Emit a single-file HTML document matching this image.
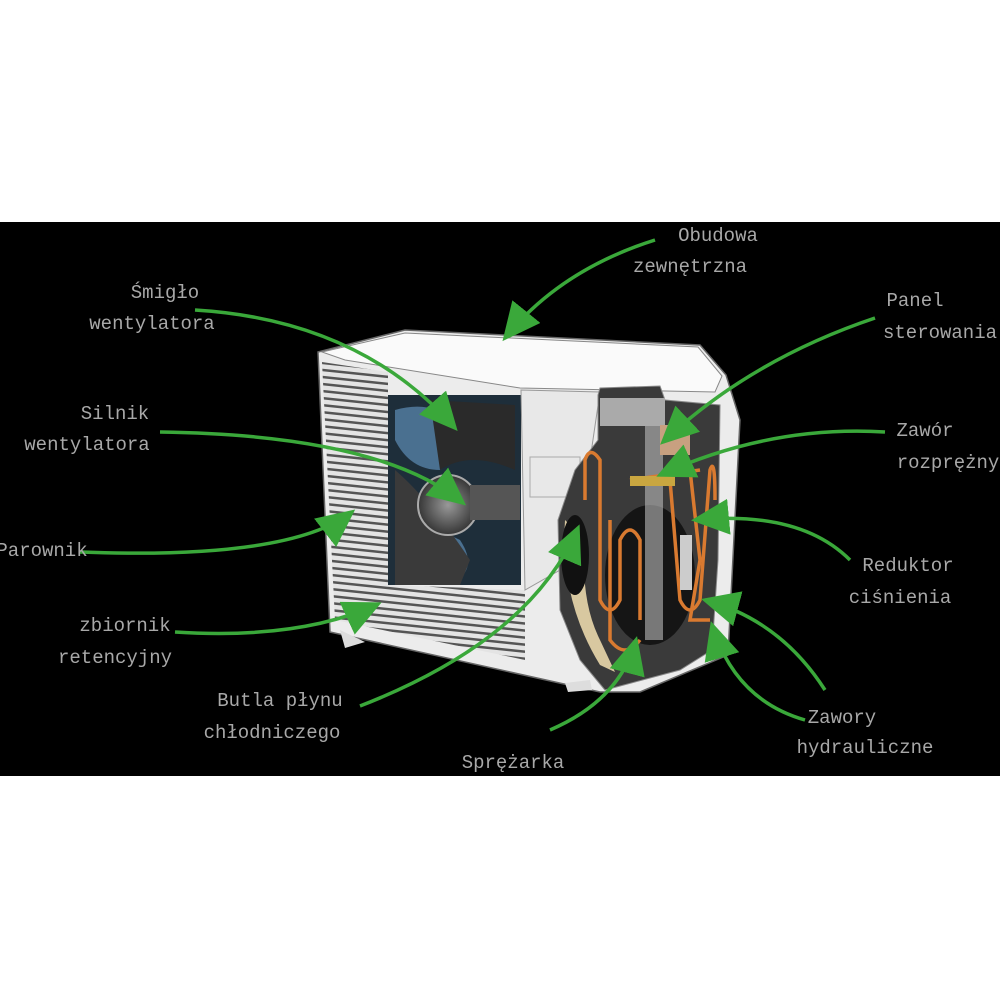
<!DOCTYPE html>
<html><head><meta charset="utf-8"><style>
html,body{margin:0;padding:0;background:#fff;}
svg{display:block}
text{font-family:"Liberation Mono","DejaVu Sans Mono",monospace;fill:#a8a8a8;font-size:19px;text-anchor:middle}
</style></head><body>
<svg width="1000" height="1000" viewBox="0 0 1000 1000">
<defs>
<marker id="ah" markerUnits="userSpaceOnUse" markerWidth="40" markerHeight="36" refX="34" refY="18" orient="auto">
<path d="M0,0 L38,18 L0,36 Z" fill="#3aa83a"/>
</marker>
<pattern id="gr" width="8" height="7" patternUnits="userSpaceOnUse" patternTransform="rotate(6)">
<rect width="8" height="7" fill="#e4e4e4"/><rect y="4" width="8" height="2.5" fill="#555"/>
</pattern>
<radialGradient id="fan" cx="0.5" cy="0.5" r="0.6"><stop offset="0" stop-color="#999"/><stop offset="1" stop-color="#222"/></radialGradient>
</defs>
<rect x="0" y="0" width="1000" height="1000" fill="#fff"/>
<rect x="0" y="222" width="1000" height="554" fill="#000"/>

<!-- unit body -->
<path d="M318,352 L405,330 L700,345 L726,375 L740,420 L728,655 L640,692 L600,692 L330,632 Z" fill="#ececec" stroke="#666" stroke-width="1.5"/>
<path d="M322,352 L405,333 L698,347 L722,376 L715,392 L520,388 L345,360 Z" fill="#fafafa" stroke="#888"/>
<!-- grille -->
<path d="M322,362 L388,372 L388,585 L525,590 L525,660 L335,620 Z" fill="url(#gr)"/>
<!-- fan window -->
<rect x="388" y="395" width="133" height="190" fill="#1e2e3a"/>
<path d="M395,410 Q430,400 455,420 Q470,450 440,470 Q410,470 395,440 Z" fill="#4a7090"/>
<path d="M395,530 Q420,520 460,540 Q480,570 450,585 L395,585 Z" fill="#4a7090"/>
<path d="M430,400 L515,405 L515,470 Q470,450 440,470 Z" fill="#2a2a2a"/>
<path d="M395,470 Q430,500 470,560 L460,585 L395,585 Z" fill="#3a3a3a"/>
<ellipse cx="448" cy="505" rx="30" ry="30" fill="url(#fan)" stroke="#aaa" stroke-width="2"/>
<path d="M470,485 L520,485 L520,520 L470,520 Z" fill="#555"/>
<!-- white panel -->
<path d="M521,390 L600,392 L590,460 L560,570 L525,590 Z" fill="#e8e8e8" stroke="#999"/>
<rect x="530" y="457" width="50" height="40" fill="none" stroke="#aaa"/>
<!-- cutout -->
<path d="M598,395 L600,388 L660,386 L665,400 L720,405 L718,560 L712,650 L680,670 L605,690 L580,660 L560,610 L558,520 L575,470 L598,440 Z" fill="#3a3a3a" stroke="#888"/>
<path d="M565,520 Q560,600 600,665 L615,672 L600,640 Q580,600 585,540 Z" fill="#d8c8a0"/>
<ellipse cx="575" cy="555" rx="14" ry="40" fill="#111"/>
<ellipse cx="650" cy="575" rx="45" ry="70" fill="#151515"/>
<rect x="645" y="410" width="18" height="230" fill="#bbb" opacity="0.6"/>
<rect x="600" y="398" width="65" height="28" fill="#aaa"/>
<rect x="660" y="425" width="30" height="30" fill="#c8a080"/>
<g fill="none" stroke="#d97a30" stroke-width="3.5">
<path d="M585,500 L585,460 Q590,445 600,460 L600,600 Q610,620 620,600 L620,540 Q630,520 640,540 L640,620"/>
<path d="M610,520 L610,640 Q625,660 640,640"/>
<path d="M690,470 L700,560 L690,620 L710,620"/>
<path d="M670,480 L680,600 Q690,620 700,600 L710,470 Q715,455 715,500"/>
<path d="M630,480 L700,470"/>
</g>
<rect x="630" y="476" width="45" height="10" fill="#c9a640"/>
<rect x="680" y="535" width="12" height="55" fill="#ccc"/>
<!-- feet -->
<path d="M340,630 L365,642 L345,648 Z" fill="#ddd"/>
<path d="M565,683 L590,680 L592,690 L568,692 Z" fill="#ddd"/>

<!-- arrows -->
<g fill="none" stroke="#3aa83a" stroke-width="3.5" marker-end="url(#ah)">
<path d="M655,240 Q560,270 505,338"/>
<path d="M195,310 Q360,320 455,428"/>
<path d="M160,432 Q380,435 463,503"/>
<path d="M80,552 Q290,560 352,512"/>
<path d="M175,632 Q300,640 378,604"/>
<path d="M360,706 Q530,640 578,528"/>
<path d="M550,730 Q620,700 636,640"/>
<path d="M875,318 Q750,360 663,442"/>
<path d="M885,432 Q770,425 660,475"/>
<path d="M850,560 Q800,510 695,520"/>
<path d="M825,690 Q780,620 705,600"/>
<path d="M805,720 Q735,700 712,625"/>
</g>

<!-- labels -->
<text x="718" y="241">Obudowa</text>
<text x="690" y="272">zewnętrzna</text>
<text x="165" y="298">Śmigło</text>
<text x="152" y="329">wentylatora</text>
<text x="115" y="419">Silnik</text>
<text x="87" y="450">wentylatora</text>
<text x="42" y="556">Parownik</text>
<text x="125" y="631">zbiornik</text>
<text x="115" y="663">retencyjny</text>
<text x="280" y="706">Butla płynu</text>
<text x="272" y="738">chłodniczego</text>
<text x="513" y="768">Sprężarka</text>
<text x="915" y="306">Panel</text>
<text x="940" y="338">sterowania</text>
<text x="925" y="436">Zawór</text>
<text x="948" y="468">rozprężny</text>
<text x="908" y="571">Reduktor</text>
<text x="900" y="603">ciśnienia</text>
<text x="842" y="723">Zawory</text>
<text x="865" y="753">hydrauliczne</text>
</svg>
</body></html>
